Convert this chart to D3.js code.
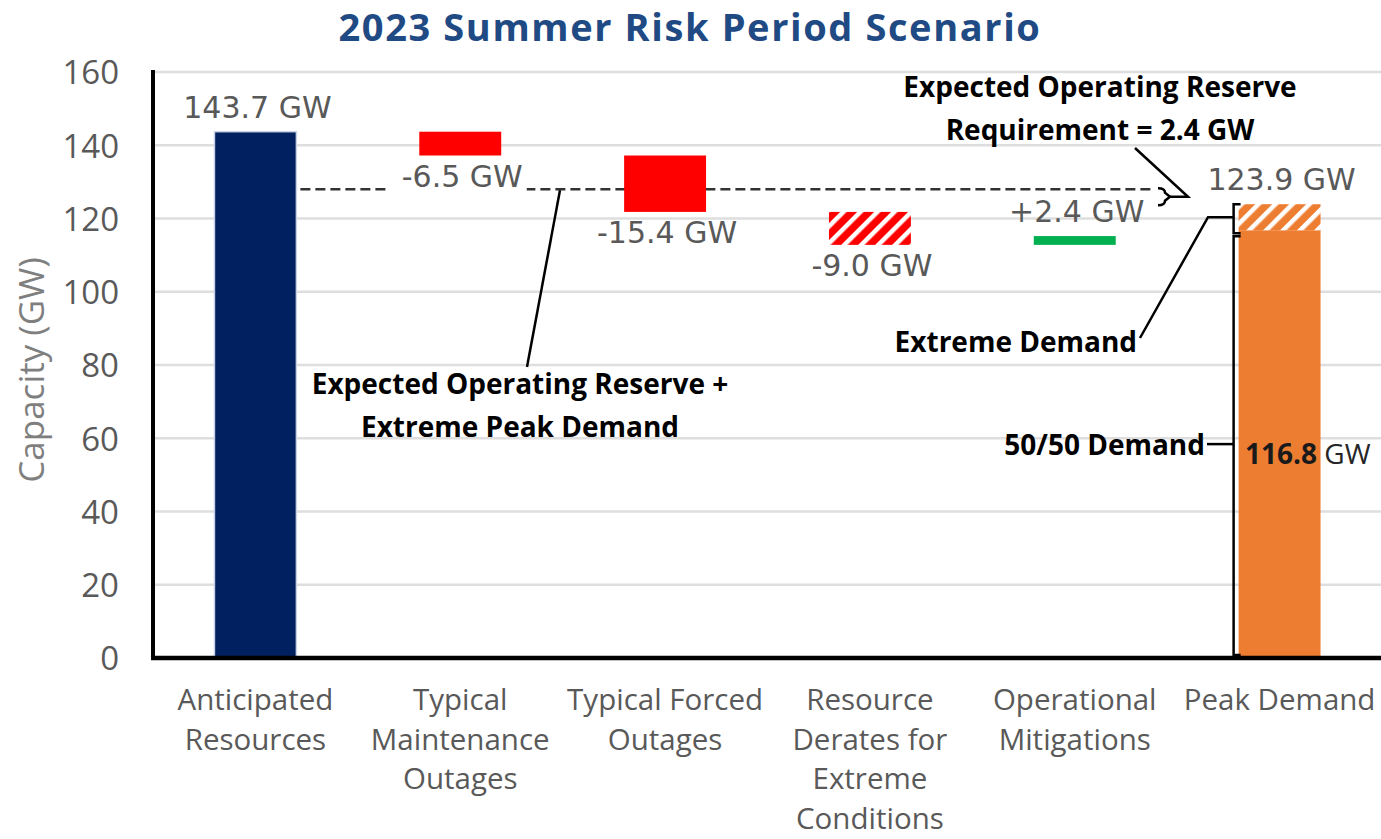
<!DOCTYPE html>
<html>
<head>
<meta charset="utf-8">
<script src="https://cdn.jsdelivr.net/npm/d3@7"></script>
<style>
  body { margin: 0; background: #fff; }
  svg { display: block; }
</style>
</head>
<body>
<svg id="chart" width="1381" height="839"></svg>
<script>
// ---- data ----
const categories = [
  "Anticipated Resources",
  "Typical Maintenance Outages",
  "Typical Forced Outages",
  "Resource Derates for Extreme Conditions",
  "Operational Mitigations",
  "Peak Demand"
];
const categoryLines = [
  ["Anticipated", "Resources"],
  ["Typical", "Maintenance", "Outages"],
  ["Typical Forced", "Outages"],
  ["Resource", "Derates for", "Extreme", "Conditions"],
  ["Operational", "Mitigations"],
  ["Peak Demand"]
];
const anticipatedResources = 143.7;              // GW
const stepChanges = [-6.5, -15.4, -9.0, 2.4];     // GW, categories 1..4
const stepHatched = [false, false, true, false];
const stepColors = ["#ff0000", "#ff0000", "#ff0000", "#00b050"];
const demand5050 = 116.8;                         // GW
const extremeDemand = 123.9;                      // GW
const reserveRequirement = 2.4;                   // GW
const reserveLevel = 128;                         // dashed reference level
const yTicks = [0, 20, 40, 60, 80, 100, 120, 140, 160];

// ---- layout ----
const svg = d3.select("#chart");
const W = 1381, H = 839;
const x = d3.scaleBand().domain(categories).range([153, 1382]).paddingInner(0.6).paddingOuter(0.3);
const y = d3.scaleLinear().domain([0, 160]).range([658, 72]);
const fmt = v => v.toFixed(1) + " GW";
const fmtSigned = v => (v > 0 ? "+" : "") + v.toFixed(1) + " GW";

// hatch patterns
const defs = svg.append("defs");
function hatch(id, color) {
  const p = defs.append("pattern").attr("id", id)
    .attr("patternUnits", "userSpaceOnUse").attr("width", 12).attr("height", 12)
    .attr("patternTransform", "rotate(45)");
  p.append("rect").attr("width", 12).attr("height", 12).attr("fill", color);
  p.append("rect").attr("width", 4.5).attr("height", 12).attr("fill", "#ffffff");
}
hatch("hatchRed", "#ff0000");
hatch("hatchOrange", "#ed7d31");

// title
svg.append("text").attr("x", 690).attr("y", 41).attr("text-anchor", "middle")
  .attr("font-family", "Open Sans").attr("font-weight", 700).attr("font-size", 38)
  .attr("letter-spacing", 1.6)
  .attr("fill", "#1f4a84").text("2023 Summer Risk Period Scenario");

// gridlines
svg.append("g").selectAll("line").data(yTicks.filter(t => t > 0)).join("line")
  .attr("x1", 155).attr("x2", W).attr("y1", d => y(d)).attr("y2", d => y(d))
  .attr("stroke", "#dedede").attr("stroke-width", 2.5);

// y axis labels
const yAxis = d3.axisLeft(y).tickValues(yTicks).tickSize(0).tickPadding(0);
const gy = svg.append("g").attr("transform", "translate(119,0)").call(yAxis);
gy.select(".domain").remove();
gy.selectAll("text").attr("font-family", "Open Sans").attr("font-size", 33)
  .attr("fill", "#595959").attr("dy", "0.36em");

svg.append("text").attr("transform", "translate(44,370) rotate(-90)")
  .attr("text-anchor", "middle").attr("font-family", "Open Sans").attr("font-size", 35)
  .attr("fill", "#7f7f7f").text("Capacity (GW)");

// waterfall segments
const segments = [];
segments.push({ cat: categories[0], lo: 0, hi: anticipatedResources, fill: "#002060",
  edge: "#c9d3e6", label: fmt(anticipatedResources), pos: "above" });
let running = anticipatedResources;
stepChanges.forEach((c, i) => {
  const start = running, end = running + c;
  segments.push({ cat: categories[i + 1], lo: Math.min(start, end), hi: Math.max(start, end),
    fill: stepHatched[i] ? "url(#hatchRed)" : stepColors[i], edge: "none",
    label: fmtSigned(c), pos: c > 0 ? "above" : "below", bg: i === 0 });
  running = end;
});
segments.push({ cat: categories[5], lo: 0, hi: demand5050, fill: "#ed7d31", edge: "none" });
segments.push({ cat: categories[5], lo: demand5050, hi: extremeDemand, fill: "url(#hatchOrange)",
  edge: "none", label: fmt(extremeDemand), pos: "above" });

// dashed reference line
svg.append("line")
  .attr("x1", x(categories[0]) + x.bandwidth() + 4).attr("x2", 1153)
  .attr("y1", y(reserveLevel)).attr("y2", y(reserveLevel))
  .attr("stroke", "#333333").attr("stroke-width", 2.5).attr("stroke-dasharray", "10,5");

svg.append("g").selectAll("rect").data(segments).join("rect")
  .attr("x", d => x(d.cat)).attr("width", x.bandwidth())
  .attr("y", d => y(d.hi)).attr("height", d => y(d.lo) - y(d.hi))
  .attr("fill", d => d.fill).attr("stroke", d => d.edge).attr("stroke-width", 1.5);

// value labels
const labelG = svg.append("g");
segments.filter(d => d.label).forEach(d => {
  const t = labelG.append("text")
    .attr("x", x(d.cat) + x.bandwidth() / 2 + 2)
    .attr("y", d.pos === "above" ? y(d.hi) - 14 : y(d.lo) + 31)
    .attr("text-anchor", "middle").attr("font-family", "DejaVu Sans").attr("font-size", 30)
    .attr("fill", "#595959").text(d.label);
  if (d.bg) {
    const b = t.node().getBBox();
    labelG.insert("rect", () => t.node())
      .attr("x", b.x - 12).attr("y", b.y).attr("width", b.width + 16).attr("height", b.height + 6)
      .attr("fill", "#ffffff");
  }
});

// category labels
const xg = svg.append("g");
categories.forEach((c, i) => {
  const t = xg.append("text").attr("text-anchor", "middle")
    .attr("font-family", "Open Sans").attr("font-size", 29.5).attr("fill", "#595959");
  categoryLines[i].forEach((line, j) => {
    t.append("tspan").attr("x", x(c) + x.bandwidth() / 2).attr("y", 710 + j * 39.7).text(line);
  });
});

// axis lines
svg.append("line").attr("x1", 153).attr("x2", 153).attr("y1", 70).attr("y2", 660)
  .attr("stroke", "#000").attr("stroke-width", 4);
svg.append("line").attr("x1", 151).attr("x2", W).attr("y1", 658).attr("y2", 658)
  .attr("stroke", "#000").attr("stroke-width", 4.5);

// ---- annotations ----
const ann = svg.append("g").attr("fill", "none").attr("stroke", "#000").attr("stroke-width", 2.5);
const annText = (txt, xx, yy, anchor) => svg.append("text").attr("x", xx).attr("y", yy)
  .attr("text-anchor", anchor).attr("font-family", "Open Sans").attr("font-weight", 700)
  .attr("font-size", 28).attr("fill", "#000").text(txt);

// reserve + extreme peak demand callout
ann.append("line").attr("x1", 560).attr("y1", y(reserveLevel) + 1).attr("x2", 527).attr("y2", 367);
annText("Expected Operating Reserve +", 520, 394, "middle");
annText("Extreme Peak Demand", 520, 437, "middle");

// reserve requirement callout with brace
const braceTop = y(reserveLevel) - 1, braceBot = y(extremeDemand) + 1, bx = 1158;
const bm = (braceTop + braceBot) / 2;
ann.append("path").attr("d",
  `M${bx},${braceTop} Q${bx + 7},${braceTop} ${bx + 7},${bm - 4} L${bx + 12},${bm}` +
  ` L${bx + 7},${bm + 4} Q${bx + 7},${braceBot} ${bx},${braceBot}`);
ann.append("polyline").attr("points", `${bx + 12},${bm} 1188,${bm} 1135,148`);
annText("Expected Operating Reserve", 1100, 97, "middle");
annText("Requirement = 2.4 GW", 1100, 140, "middle");

// demand brackets beside the peak demand bar
const bxL = x(categories[5]) - 5, bxR = x(categories[5]);
const yEx0 = y(extremeDemand), yEx1 = y(demand5050), yExM = (yEx0 + yEx1) / 2;
ann.append("path").attr("d",
  `M${bxR + 2},${yEx0} L${bxL},${yEx0} L${bxL},${yEx1 + 3} L${bxR + 2},${yEx1 + 3}`);
ann.append("polyline").attr("points", `${bxL},${yExM} 1208,${yExM} 1140,338`);
annText("Extreme Demand", 1137, 352, "end");

const y50a = y(demand5050) + 6, y50b = y(0) - 3, y50m = y(demand5050 / 2);
ann.append("path").attr("d", `M${bxR + 2},${y50a} L${bxL},${y50a} L${bxL},${y50b} L${bxR + 2},${y50b}`);
ann.append("line").attr("x1", bxL).attr("x2", 1207).attr("y1", y50m).attr("y2", y50m);
annText("50/50 Demand", 1205, 455, "end");

const t116 = svg.append("text").attr("x", 1245).attr("y", 464).attr("font-family", "Open Sans")
  .attr("font-size", 28).attr("fill", "#1a1a1a");
t116.append("tspan").attr("font-weight", 700).text(demand5050.toFixed(1));
t116.append("tspan").attr("fill", "#262626").text(" GW");
</script>
</body>
</html>
